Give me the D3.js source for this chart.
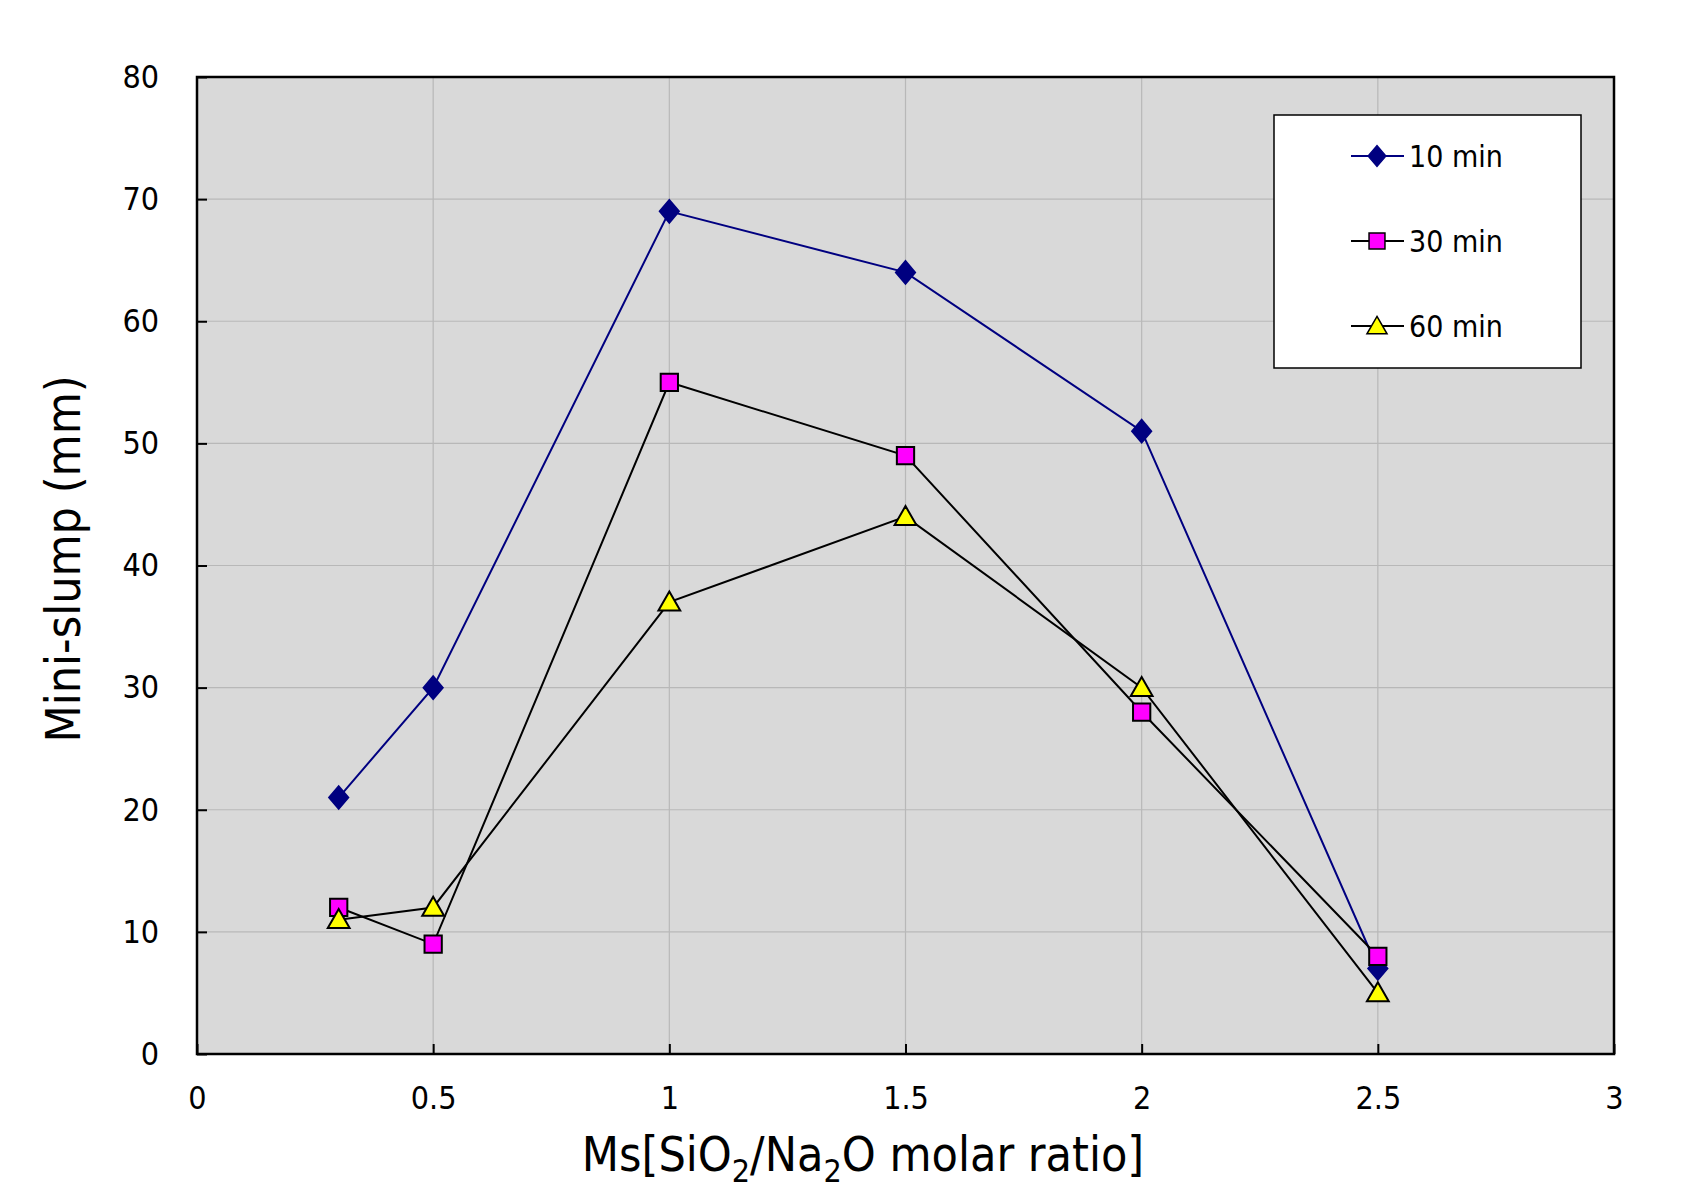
<!DOCTYPE html>
<html>
<head>
<meta charset="utf-8">
<script src="https://cdn.jsdelivr.net/npm/d3@7"></script>
<style>
body { margin: 0; background: #fff; }
svg { display: block; }
.tick text { font-family: "DejaVu Sans Condensed", "DejaVu Sans", sans-serif; }
</style>
</head>
<body>
<div id="chart"></div>
<script>
// data
var ratios = [0.3, 0.5, 1, 1.5, 2, 2.5];
var slump10 = [21, 30, 69, 64, 51, 7];
var slump30 = [12, 9, 55, 49, 28, 8];
var slump60 = [11, 12, 37, 44, 30, 5];
var seriesNames = ["10 min", "30 min", "60 min"];
var xTicks = [0, 0.5, 1, 1.5, 2, 2.5, 3];
var yTicks = [0, 10, 20, 30, 40, 50, 60, 70, 80];

var series = [
    {name: seriesNames[0], values: slump10, line: "#000080", fill: "#000080", stroke: "#000080", shape: d3.symbolDiamond2},
    {name: seriesNames[1], values: slump30, line: "#000000", fill: "#ff00ff", stroke: "#000000", shape: d3.symbolSquare2},
    {name: seriesNames[2], values: slump60, line: "#000000", fill: "#ffff00", stroke: "#000000", shape: d3.symbolTriangle2}
];

var W = 1681, H = 1196,
    margin = {top: 77, right: 67, bottom: 142, left: 197},
    width = W - margin.left - margin.right,
    height = H - margin.top - margin.bottom;

var svg = d3.select("#chart").append("svg")
    .attr("width", W)
    .attr("height", H);

var g = svg.append("g")
    .attr("transform", "translate(" + margin.left + "," + margin.top + ")");

var x = d3.scaleLinear().domain([0, 3]).range([0, width]);
var y = d3.scaleLinear().domain([0, 80]).range([height, 0]);

g.append("rect")
    .attr("width", width)
    .attr("height", height)
    .attr("fill", "#d9d9d9");

// grid
g.selectAll(".gx").data(xTicks.slice(1, -1)).enter().append("line")
    .attr("x1", function(d) { return x(d); })
    .attr("x2", function(d) { return x(d); })
    .attr("y1", 0).attr("y2", height)
    .attr("stroke", "#b8b8b8").attr("stroke-width", 1.2);
g.selectAll(".gy").data(yTicks.slice(1, -1)).enter().append("line")
    .attr("y1", function(d) { return y(d); })
    .attr("y2", function(d) { return y(d); })
    .attr("x1", 0).attr("x2", width)
    .attr("stroke", "#b8b8b8").attr("stroke-width", 1.2);

// axes, ticks inward
var xAxis = g.append("g")
    .attr("transform", "translate(0," + height + ")")
    .call(d3.axisBottom(x).tickValues(xTicks).tickSize(-10).tickPadding(32)
        .tickFormat(d3.format("")));
var yAxis = g.append("g")
    .call(d3.axisLeft(y).tickValues(yTicks).tickSize(-10).tickPadding(38));

[xAxis, yAxis].forEach(function(a) {
    a.select(".domain").remove();
    a.selectAll(".tick line").attr("stroke", "#000").attr("stroke-width", 2);
    a.selectAll(".tick text").attr("font-size", 32).attr("fill", "#000");
});
xAxis.selectAll(".tick text").attr("dy", "0.71em");

g.append("rect")
    .attr("width", width)
    .attr("height", height)
    .attr("fill", "none")
    .attr("stroke", "#000")
    .attr("stroke-width", 2.5);

// lines and markers
var line = d3.line()
    .x(function(d, i) { return x(ratios[i]); })
    .y(function(d) { return y(d); });

series.forEach(function(s) {
    g.append("path")
        .datum(s.values)
        .attr("d", line)
        .attr("fill", "none")
        .attr("stroke", s.line)
        .attr("stroke-width", 2);
});

function markerSize(s) {
    if (s.shape === d3.symbolTriangle2) return 340;
    if (s.shape === d3.symbolSquare2) return 380;
    return 330;
}

series.forEach(function(s) {
    var sym = d3.symbol().type(s.shape).size(markerSize(s));
    g.selectAll(null).data(s.values).enter().append("path")
        .attr("d", sym)
        .attr("transform", function(d, i) {
            var dy = s.shape === d3.symbolTriangle2 ? 2 : 0;
            return "translate(" + x(ratios[i]) + "," + (y(d) + dy) + ")" +
                (s.shape === d3.symbolDiamond2 ? " scale(0.85,1)" : "");
        })
        .attr("fill", s.fill)
        .attr("stroke", s.stroke)
        .attr("stroke-width", 2);
});

// legend
var legend = g.append("g")
    .attr("transform", "translate(" + (1274 - margin.left) + "," + (115 - margin.top) + ")");
legend.append("rect")
    .attr("width", 307)
    .attr("height", 253)
    .attr("fill", "#fff")
    .attr("stroke", "#000")
    .attr("stroke-width", 1.5);

series.forEach(function(s, i) {
    var row = legend.append("g").attr("transform", "translate(0," + (41 + i * 85) + ")");
    row.append("line")
        .attr("x1", 77).attr("x2", 130)
        .attr("stroke", s.line).attr("stroke-width", 2);
    var sym = d3.symbol().type(s.shape).size(markerSize(s) * 0.85);
    row.append("path")
        .attr("d", sym)
        .attr("transform", "translate(103," + (s.shape === d3.symbolTriangle2 ? 2 : 0) + ")" +
            (s.shape === d3.symbolDiamond2 ? " scale(0.85,1)" : ""))
        .attr("fill", s.fill)
        .attr("stroke", s.stroke)
        .attr("stroke-width", 1.5);
    row.append("text")
        .attr("x", 135)
        .attr("dy", "0.36em")
        .attr("font-family", "DejaVu Sans Condensed, DejaVu Sans, sans-serif")
        .attr("font-size", 30)
        .text(s.name);
});

// axis titles
var xTitle = svg.append("text")
    .attr("x", 863)
    .attr("y", 1171)
    .attr("text-anchor", "middle")
    .attr("font-family", "DejaVu Sans Condensed, DejaVu Sans, sans-serif")
    .attr("font-size", 48);
xTitle.append("tspan").text("Ms[SiO");
xTitle.append("tspan").attr("font-size", 32).attr("dy", 11).text("2");
xTitle.append("tspan").attr("dy", -11).text("/Na");
xTitle.append("tspan").attr("font-size", 32).attr("dy", 11).text("2");
xTitle.append("tspan").attr("dy", -11).text("O molar ratio]");

svg.append("text")
    .attr("transform", "translate(80,559) rotate(-90)")
    .attr("text-anchor", "middle")
    .attr("font-family", "DejaVu Sans Condensed, DejaVu Sans, sans-serif")
    .attr("font-size", 48)
    .text("Mini-slump (mm)");
</script>
</body>
</html>
